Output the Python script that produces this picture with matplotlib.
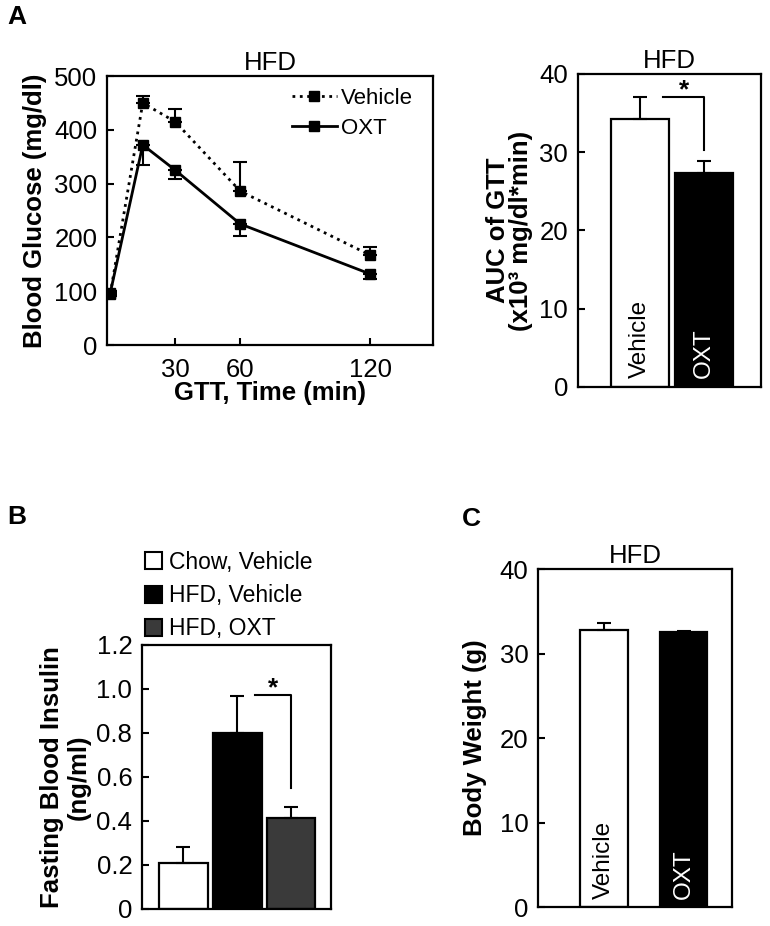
import matplotlib
matplotlib.use("Agg")
import matplotlib.pyplot as plt
from matplotlib.patches import Patch
import numpy as np

plt.rcParams['font.family'] = ['Liberation Sans', 'DejaVu Sans']
plt.rcParams['axes.linewidth'] = 1.6

# panel A, glucose tolerance test
time_min = [0, 15, 30, 60, 120]
veh_glucose = [95, 450, 415, 286, 167]
veh_err = [5, 13, 24, 54, 15]
oxt_glucose = [97, 372, 325, 225, 132]
oxt_err = [6, 38, 16, 22, 9]

# panel A, AUC
auc_groups = ['Vehicle', 'OXT']
auc_vals = [34.3, 27.4]
auc_err = [2.7, 1.5]

# panel B, fasting insulin
ins_groups = ['Chow, Vehicle', 'HFD, Vehicle', 'HFD, OXT']
ins_vals = [0.21, 0.80, 0.413]
ins_err = [0.074, 0.168, 0.05]
ins_colors = ['white', 'black', '#3a3a3a']

# panel C, body weight
bw_groups = ['Vehicle', 'OXT']
bw_vals = [32.8, 32.5]
bw_err = [0.8, 0.15]

TICK = 18.5
LAB = 18.5
INBAR = 17.5


def style(ax):
    ax.tick_params(direction='in', length=5, width=1.5, labelsize=TICK, pad=7)
    for s in ax.spines.values():
        s.set_linewidth(1.6)


fig = plt.figure(figsize=(7.7, 9.26), dpi=100)

# ---- A: GTT curve
ax1 = fig.add_axes([0.139, 0.6274, 0.4234, 0.2905])
ax1.errorbar(time_min, veh_glucose, yerr=[np.zeros(5), veh_err], fmt='none',
             ecolor='k', elinewidth=1.5, capsize=5, capthick=1.5)
ax1.errorbar(time_min, oxt_glucose, yerr=[oxt_err, np.zeros(5)], fmt='none',
             ecolor='k', elinewidth=1.5, capsize=5, capthick=1.5)
ax1.plot(time_min, veh_glucose, ls=':', color='k', lw=2, marker='s', ms=7.5, label='Vehicle')
ax1.plot(time_min, oxt_glucose, ls='-', color='k', lw=2, marker='s', ms=7.5, label='OXT')
ax1.set_xlim(-1.5, 149)
ax1.set_ylim(0, 500)
ax1.set_xticks([30, 60, 120])
ax1.set_yticks(range(0, 501, 100))
style(ax1)
ax1.tick_params(axis='x', pad=9)
ax1.set_title('HFD', fontsize=LAB, pad=4)
ax1.set_ylabel('Blood Glucose (mg/dl)', fontsize=LAB, fontweight='bold', va='center')
ax1.yaxis.set_label_coords(-0.221, 0.5)
ax1.set_xlabel('GTT, Time (min)', fontsize=LAB, fontweight='bold', va='center')
ax1.xaxis.set_label_coords(0.5, -0.178)
ax1.legend(loc='upper right', frameon=False, fontsize=16, handlelength=2.0,
           handletextpad=0.2, labelspacing=0.4, borderaxespad=0.5,
           bbox_to_anchor=(1.0, 1.03))

# ---- A: AUC bars
ax2 = fig.add_axes([0.7506, 0.5821, 0.2377, 0.338])
pos2 = [1, 2]
ax2.bar(pos2, auc_vals, width=0.9, color=['white', 'black'], edgecolor='k', linewidth=1.6)
ax2.errorbar(pos2, auc_vals, yerr=[[0, 0], auc_err], fmt='none', ecolor='k',
             elinewidth=1.5, capsize=5, capthick=1.5)
ax2.set_xlim(0.04, 2.88)
ax2.set_ylim(0, 40)
ax2.set_yticks(range(0, 41, 10))
ax2.set_xticks([])
style(ax2)
ax2.set_title('HFD', fontsize=LAB, pad=4)
ax2.set_ylabel('AUC of GTT\n(x10³ mg/dl*min)', fontsize=LAB, fontweight='bold',
               va='center', linespacing=0.95)
ax2.yaxis.set_label_coords(-0.372, 0.5)
ax2.plot([1.36, 2.0, 2.0], [37.0, 37.0, 30.3], color='k', lw=1.5)
ax2.text(1.68, 37.0, '*', fontsize=19, fontweight='bold', ha='center', va='baseline')
ax2.text(1, 1.2, auc_groups[0], rotation=90, ha='center', va='bottom', fontsize=INBAR, color='k')
ax2.text(2, 1.2, auc_groups[1], rotation=90, ha='center', va='bottom', fontsize=INBAR, color='white')

# ---- B: insulin bars
ax3 = fig.add_axes([0.1844, 0.01836, 0.2455, 0.2851])
pos3 = [1, 2, 3]
ax3.bar(pos3, ins_vals, width=0.9, color=ins_colors, edgecolor='k', linewidth=1.6)
ax3.errorbar(pos3, ins_vals, yerr=[[0, 0, 0], ins_err], fmt='none', ecolor='k',
             elinewidth=1.5, capsize=5, capthick=1.5)
ax3.set_xlim(0.23, 3.74)
ax3.set_ylim(0, 1.2)
ax3.set_yticks([0, 0.2, 0.4, 0.6, 0.8, 1.0, 1.2])
ax3.set_yticklabels(['0', '0.2', '0.4', '0.6', '0.8', '1.0', '1.2'])
ax3.set_xticks([])
style(ax3)
ax3.set_ylabel('Fasting Blood Insulin\n(ng/ml)', fontsize=LAB, fontweight='bold',
               va='center', linespacing=1.15)
ax3.yaxis.set_label_coords(-0.407, 0.5)
ax3.plot([2.32, 3.0, 3.0], [0.973, 0.973, 0.55], color='k', lw=1.5)
ax3.text(2.66, 0.973, '*', fontsize=19, fontweight='bold', ha='center', va='baseline')
handles = [Patch(facecolor=c, edgecolor='k', linewidth=1.5) for c in ins_colors]
ax3.legend(handles, ins_groups, loc='lower left', bbox_to_anchor=(-0.01, 1.0),
           frameon=False, fontsize=16.5, handlelength=0.75, handleheight=0.75,
           handletextpad=0.3, labelspacing=0.45, borderaxespad=0.1, borderpad=0.1)

# ---- C: body weight bars
ax4 = fig.add_axes([0.6987, 0.0205, 0.252, 0.365])
pos4 = [1, 2]
ax4.bar(pos4, bw_vals, width=0.6, color=['white', 'black'], edgecolor='k', linewidth=1.6)
ax4.errorbar(pos4, bw_vals, yerr=[[0, 0], bw_err], fmt='none', ecolor='k',
             elinewidth=1.5, capsize=5, capthick=1.5)
ax4.set_xlim(0.17, 2.61)
ax4.set_ylim(0, 40)
ax4.set_yticks(range(0, 41, 10))
ax4.set_xticks([])
style(ax4)
ax4.set_title('HFD', fontsize=LAB, pad=4)
ax4.set_ylabel('Body Weight (g)', fontsize=LAB, fontweight='bold', va='center')
ax4.yaxis.set_label_coords(-0.325, 0.5)
ax4.text(1, 0.9, bw_groups[0], rotation=90, ha='center', va='bottom', fontsize=INBAR, color='k')
ax4.text(2, 0.9, bw_groups[1], rotation=90, ha='center', va='bottom', fontsize=INBAR, color='white')

# panel letters
fig.text(0.01, 0.995, 'A', fontsize=19, fontweight='bold', va='top')
fig.text(0.01, 0.455, 'B', fontsize=19, fontweight='bold', va='top')
fig.text(0.6, 0.452, 'C', fontsize=19, fontweight='bold', va='top')

fig.savefig('out.png', dpi=100)
